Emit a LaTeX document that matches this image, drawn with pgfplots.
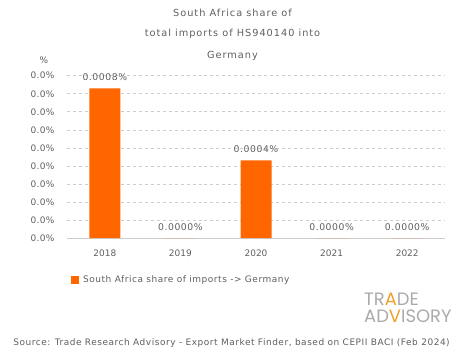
\documentclass[border=0pt]{standalone}
\usepackage{pgfplots}
\pgfplotsset{compat=1.18}
\usepackage{fontspec}
\setmainfont{DejaVu Sans}
\newfontfamily\titlefont[LetterSpace=10]{DejaVu Sans}
\newfontfamily\legfont[LetterSpace=6]{DejaVu Sans}
\newfontfamily\tickfont[LetterSpace=4]{DejaVu Sans}
\newfontfamily\logofont{Poppins}
\definecolor{barorange}{RGB}{255,102,0}
\definecolor{txtgray}{RGB}{95,95,95}
\definecolor{gridgray}{RGB}{205,205,205}
\definecolor{logogray}{RGB}{170,170,170}
\definecolor{logoorange}{RGB}{240,160,40}
\begin{document}
\begin{tikzpicture}[x=1bp,y=1bp]
\path[use as bounding box] (0,0) rectangle (465,359);
\begin{axis}[
  at={(67bp,121bp)}, anchor=south west,
  scale only axis,
  width=378bp, height=162.3bp,
  xmin=-0.5, xmax=4.5,
  ymin=0, ymax=0.0009,
  ytick={0,0.0001,0.0002,0.0003,0.0004,0.0005,0.0006,0.0007,0.0008,0.0009},
  scaled y ticks=false,
  yticklabel={\pgfmathprintnumber[fixed,fixed zerofill,precision=1]{\tick}\%},
  /pgf/number format/assume math mode=true,
  xtick=data,
  xticklabels={2018,2019,2020,2021,2022},
  axis x line*=bottom,
  axis y line*=left,
  y axis line style={draw=none},
  x axis line style={draw=gridgray, line width=0.8pt},
  major tick length=0pt,
  ymajorgrids,
  grid style={gridgray, dashed, line width=0.6pt},
  tick label style={text=txtgray},
  yticklabel style={font=\tickfont\fontsize{9}{10}\selectfont, xshift=-9bp},
  xticklabel style={font=\fontsize{9}{10}\selectfont, yshift=-8bp},
  ybar, bar width=31bp,
  nodes near coords={\pgfmathprintnumber[fixed,fixed zerofill,precision=4]{\pgfplotspointmeta}\%},
  nodes near coords style={font=\legfont\fontsize{9.3}{10}\selectfont, text=txtgray, anchor=south, yshift=4bp, /pgf/number format/assume math mode=true},
  legend style={at={(0.0106,-0.259)}, anchor=west, draw=none, fill=none, inner sep=0pt,
    font=\legfont\fontsize{9}{10}\selectfont, text=txtgray},
  legend image code/.code={\fill[barorange] (0bp,-4bp) rectangle (8bp,4bp); \path (10bp,0bp);},
]
\addplot[fill=barorange, draw=none] coordinates {(0,0.00083) (1,0) (2,0.00043) (3,0) (4,0)};
\addlegendentry{South Africa share of imports -> Germany}
\end{axis}
\node[text=txtgray, font=\titlefont\fontsize{9.8}{11}\selectfont] at (232.5,346.3) {South Africa share of};
\node[text=txtgray, font=\titlefont\fontsize{9.8}{11}\selectfont] at (232.5,325) {total imports of HS940140 into};
\node[text=txtgray, font=\titlefont\fontsize{9.8}{11}\selectfont] at (232.5,303) {Germany};
\node[text=txtgray, font=\fontsize{9}{10}\selectfont] at (44,299) {\%};
\node[text=logogray, font=\logofont\fontsize{18}{18}\selectfont, anchor=west, inner sep=0pt] at (364,59.5) {TR\textcolor{logoorange}{A}DE};
\node[text=logogray, font=\logofont\fontsize{18}{18}\selectfont, anchor=west, inner sep=0pt] at (364,43) {AD\textcolor{logoorange}{V}ISORY};
\node[text=txtgray, font=\legfont\fontsize{9}{11}\selectfont] at (231.5,16) {Source: Trade Research Advisory - Export Market Finder, based on CEPII BACI (Feb 2024)};
\end{tikzpicture}
\end{document}
